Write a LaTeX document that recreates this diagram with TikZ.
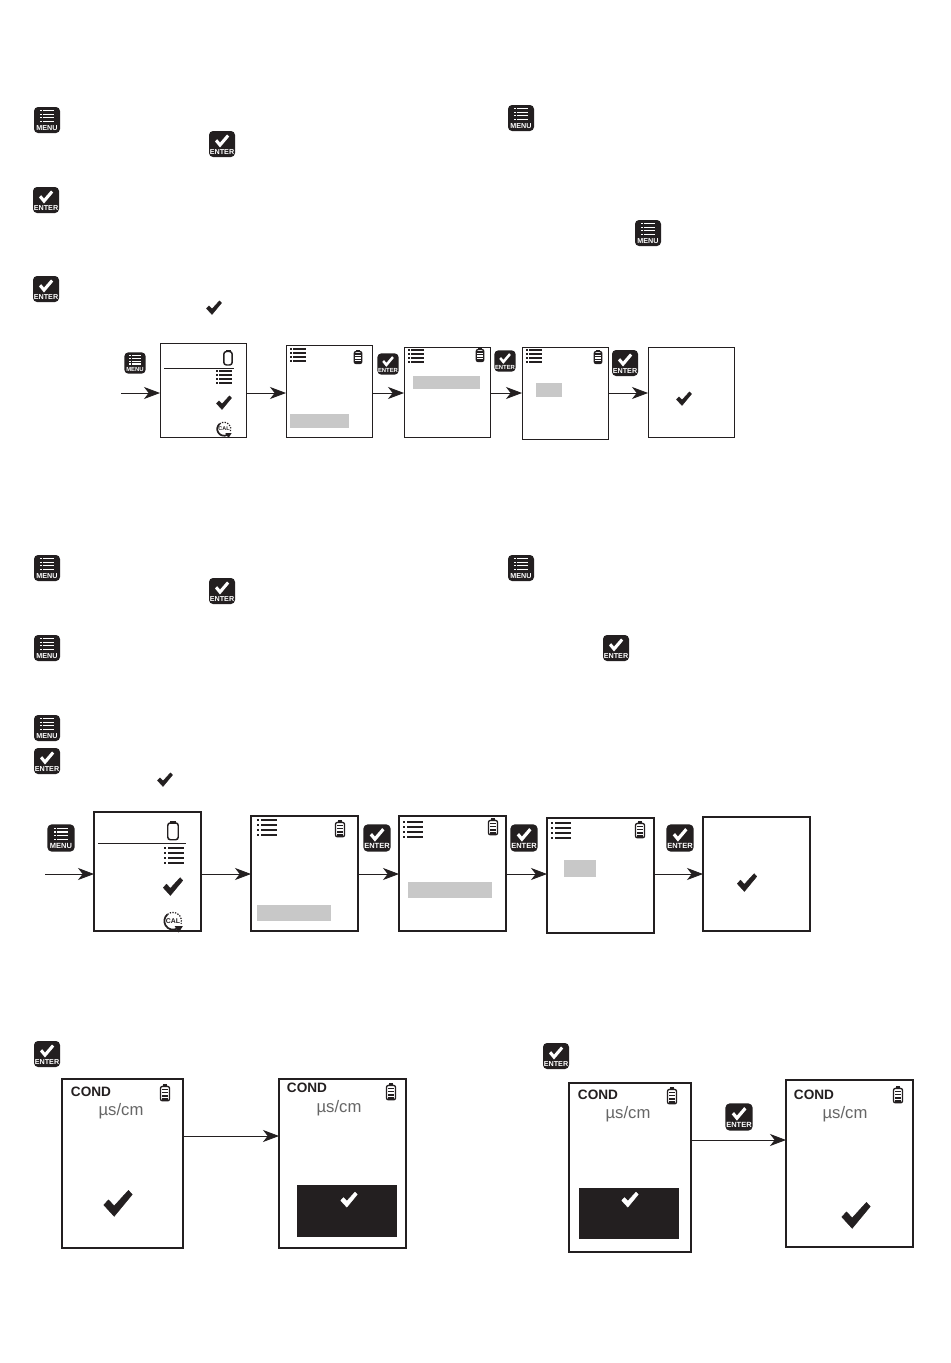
\documentclass[tikz,border=0pt]{standalone}
\usepackage{fontspec}
\setmainfont{Liberation Sans}
\usetikzlibrary{arrows.meta}
\definecolor{ink}{HTML}{231F20}
\definecolor{hl}{HTML}{C8C8C8}
\tikzset{
  x=0.75pt,y=-0.75pt,
  screen/.style={draw=ink,fill=white,line width=#1,inner sep=0,outer sep=0},
  screen/.default=1pt,
  flow/.style={draw=ink,line width=0.6pt,-{Stealth[length=12pt,width=9pt,inset=3.5pt]}},
  condlabel/.style={font=\fontsize{10.2}{12}\selectfont\bfseries,text=ink,inner sep=0},
  unitlabel/.style={font=\fontsize{12.5}{13}\selectfont,text=black!60,inner sep=0},
  pics/tick/.style={code={
    \fill[#1,draw=#1,line width=0.3pt,line join=round] (-7.5,0.5) -- (-5,-2.2) -- (-2,1) -- (5.5,-7.2) -- (7.5,-5) -- (-2,6.5) -- cycle;}},
  pics/tick/.default=ink,
  pics/bars/.style={code={
    \foreach \yy in {-6,-2,2,6}{
      \fill[ink] (-8,\yy-0.8) rectangle (-6.4,\yy+0.8);
      \fill[ink] (-4.8,\yy-0.8) rectangle (8,\yy+0.8);}}},
  pics/bat/.style={code={
    \fill[ink] (-2,-7.5) rectangle (2,-5);
    \draw[ink,line width=1pt,rounded corners=1.5] (-3.8,-5.5) rectangle (3.8,6.5);
    \foreach \yy in {-3,-0.3,2.4,5}\fill[ink] (-2.6,\yy-0.7) rectangle (2.6,\yy+0.7);}},
  pics/batempty/.style={code={
    \fill[ink] (-2.5,-8) rectangle (2.5,-6);
    \draw[ink,line width=1.1pt,rounded corners=2] (-4.2,-6.5) rectangle (4.2,7);}},
  pics/calicon/.style={code={
    \draw[ink,line width=1.3pt] (60:7.5) arc (60:230:7.5);
    \draw[ink,line width=0.9pt,dash pattern=on 1pt off 1pt] (230:7.5) arc (230:380:7.5);
    \fill[ink] (1.5,4.5) -- (8.5,4.5) -- (5,10) -- cycle;
    \node[transform shape,inner sep=0,font=\fontsize{4.5}{5}\selectfont\bfseries,text=ink] at (0,0) {CAL};}},
  pics/menubtn/.style={code={
    \fill[ink,rounded corners=3] (-13,-13) rectangle (13,13);
    \foreach \yy in {-9.3,-5.8,-2.3,1.2}{
      \fill[white] (-7,\yy-0.7) rectangle (-5.2,\yy+0.7);
      \fill[white] (-3.8,\yy-0.7) rectangle (7,\yy+0.7);}
    \node[transform shape,inner sep=0,font=\fontsize{5.4}{5}\selectfont\bfseries,text=white] at (0,7.8) {MENU};}},
  pics/enterbtn/.style={code={
    \fill[ink,rounded corners=3] (-13,-13) rectangle (13,13);
    \fill[white] (-7,-2.6) -- (-4.8,-4.8) -- (-2,-1.4) -- (5,-9.5) -- (7.2,-7.4) -- (-2,3.5) -- cycle;
    \node[transform shape,inner sep=0,font=\fontsize{5.4}{5}\selectfont\bfseries,text=white] at (0,7.8) {ENTER};}},
}
% \scr{name}{left}{top}{right}{bottom}{line width}
\newcommand{\scr}[6]{\node[screen=#6,anchor=north west,minimum width={(#4-#2)*0.75pt},minimum height={(#5-#3)*0.75pt}] (#1) at (#2,#3) {};}
\newcommand{\hlbar}[4]{\fill[hl] (#1,#2) rectangle (#3,#4);}
\begin{document}
\begin{tikzpicture}
\useasboundingbox (0,0) rectangle (950,1363);
\fill[white] (0,0) rectangle (950,1363);

% text-column icons, section 1
\pic at (47,120) {menubtn};
\pic at (222,144) {enterbtn};
\pic at (521,118) {menubtn};
\pic at (46,200) {enterbtn};
\pic at (648,233) {menubtn};
\pic at (46,289) {enterbtn};
\pic at (214,308) {tick};

% flow 1
\pic[scale=0.82] at (135,363) {menubtn};
\pic[scale=0.82] at (388,364) {enterbtn};
\pic[scale=0.82] at (505,361) {enterbtn};
\pic at (625,363) {enterbtn};
\scr{a1}{160}{343}{246}{437}{0.75pt}
\scr{b1}{286}{345}{372}{437}{0.75pt}
\scr{c1}{404}{347}{490}{437}{0.75pt}
\scr{d1}{522}{347}{608}{439}{0.75pt}
\scr{e1}{648}{347}{734}{437}{0.75pt}
\coordinate (s1) at (121,393);
\draw[flow] (s1) -- (a1.west |- s1);
\draw[flow] (a1.east |- s1) -- (b1.west |- s1);
\draw[flow] (b1.east |- s1) -- (c1.west |- s1);
\draw[flow] (c1.east |- s1) -- (d1.west |- s1);
\draw[flow] (d1.east |- s1) -- (e1.west |- s1);
\pic at (228,358) {batempty};
\draw[ink,line width=0.75pt] (164,368) -- (234,368);
\pic at (224,377) {bars};
\pic at (224,403) {tick};
\pic[scale=0.9] at (224,429) {calicon};
\pic at (298,355) {bars};
\pic at (358,357) {bat};
\hlbar{290}{414}{349}{428}
\pic at (416,356) {bars};
\pic at (480,355) {bat};
\hlbar{413}{376}{480}{389}
\pic at (534,356) {bars};
\pic at (598,357) {bat};
\hlbar{536}{383}{562}{397}
\pic at (684,399) {tick};

% text-column icons, section 2
\pic at (47,568) {menubtn};
\pic at (222,591) {enterbtn};
\pic at (521,568) {menubtn};
\pic at (47,648) {menubtn};
\pic at (616,648) {enterbtn};
\pic at (47,728) {menubtn};
\pic at (47,761) {enterbtn};
\pic at (165,780) {tick};

% flow 2
\pic[scale=1.04] at (61,838) {menubtn};
\pic[scale=1.04] at (377,838) {enterbtn};
\pic[scale=1.04] at (524,838) {enterbtn};
\pic[scale=1.04] at (680,838) {enterbtn};
\scr{a2}{94}{812}{201}{931}{1.1pt}
\scr{b2}{251}{816}{358}{931}{1.1pt}
\scr{c2}{399}{816}{506}{931}{1.1pt}
\scr{d2}{547}{818}{654}{933}{1.1pt}
\scr{e2}{703}{817}{810}{931}{1.1pt}
\coordinate (s2) at (45,874);
\draw[flow] (s2) -- (a2.west |- s2);
\draw[flow] (a2.east |- s2) -- (b2.west |- s2);
\draw[flow] (b2.east |- s2) -- (c2.west |- s2);
\draw[flow] (c2.east |- s2) -- (d2.west |- s2);
\draw[flow] (d2.east |- s2) -- (e2.west |- s2);
\pic[scale=1.25] at (173,831) {batempty};
\draw[ink,line width=0.75pt] (98,843) -- (186,843);
\pic[scale=1.25] at (174,855) {bars};
\pic[scale=1.3] at (173,887) {tick};
\pic[scale=1.15] at (173,921) {calicon};
\pic[scale=1.25] at (267,827) {bars};
\pic[scale=1.2] at (340,829) {bat};
\hlbar{257}{905}{331}{921}
\pic[scale=1.25] at (413,829) {bars};
\pic[scale=1.2] at (493,827) {bat};
\hlbar{408}{882}{492}{898}
\pic[scale=1.25] at (561,830) {bars};
\pic[scale=1.2] at (640,830) {bat};
\hlbar{564}{860}{596}{877}
\pic[scale=1.3] at (747,883) {tick};

% section 3
\pic at (47,1054) {enterbtn};
\pic at (556,1056) {enterbtn};
\pic[scale=1.04] at (739,1117) {enterbtn};
\scr{a3}{62}{1079}{183}{1248}{1.1pt}
\scr{b3}{279}{1079}{406}{1248}{1.1pt}
\scr{c3}{569}{1083}{691}{1252}{1.1pt}
\scr{d3}{786}{1080}{913}{1247}{1.1pt}
\coordinate (s3) at (230,1136);
\coordinate (s4) at (740,1140);
\draw[flow] (a3.east |- s3) -- (b3.west |- s3);
\draw[flow] (c3.east |- s4) -- (d3.west |- s4);

\node[condlabel] (ca) at (91,1092) {COND};
\node[unitlabel] (ua) at (121,1111) {µs/cm};
\pic[scale=1.2] at (165,1093) {bat};
\pic[scale=1.9] at (118,1204) {tick};

\node[condlabel] (cb) at (307,1088) {COND};
\node[unitlabel] (ub) at (339,1108) {µs/cm};
\pic[scale=1.2] at (391,1092) {bat};
\fill[ink] (297,1185) rectangle (397,1237);
\pic[scale=1.1] at (349,1200) {tick=white};

\node[condlabel] (cc) at (598,1095) {COND};
\node[unitlabel] (uc) at (628,1114) {µs/cm};
\pic[scale=1.2] at (672,1096) {bat};
\fill[ink] (579,1188) rectangle (679,1239);
\pic[scale=1.1] at (630,1200) {tick=white};

\node[condlabel] (cd) at (814,1095) {COND};
\node[unitlabel] (ud) at (845,1114) {µs/cm};
\pic[scale=1.2] at (898,1095) {bat};
\pic[scale=1.9] at (856,1216) {tick};
\end{tikzpicture}
\end{document}
